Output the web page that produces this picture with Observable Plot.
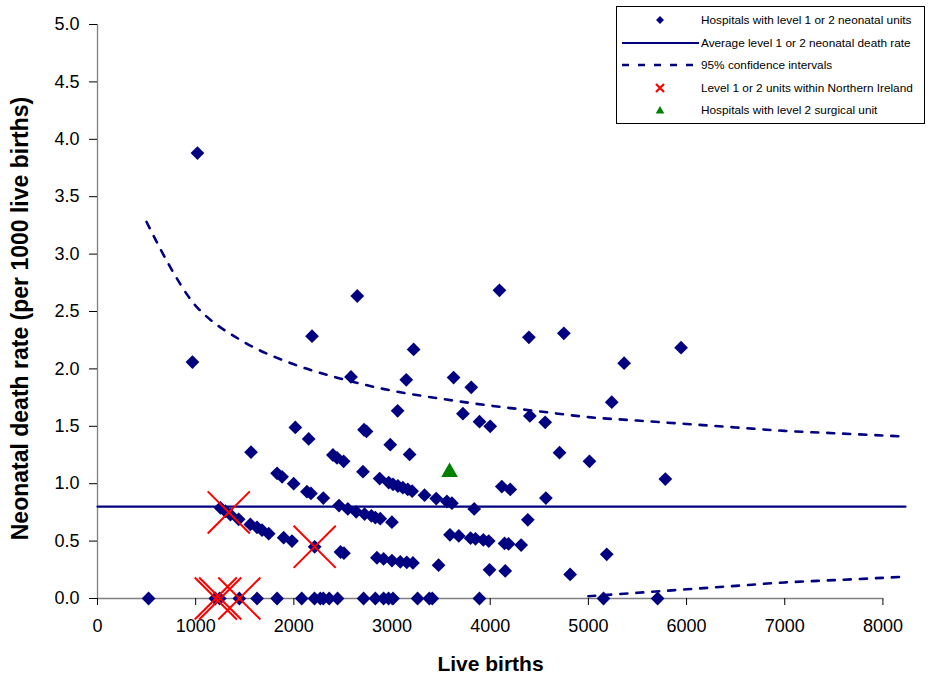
<!DOCTYPE html>
<html><head><meta charset="utf-8">
<script src="https://cdn.jsdelivr.net/npm/d3@7"></script>
<script src="https://cdn.jsdelivr.net/npm/@observablehq/plot@0.6"></script>
<style>
html,body{margin:0;padding:0;background:#fff;}
#wrap{position:relative;width:932px;height:678px;overflow:hidden;font-family:"Liberation Sans",Arial,sans-serif;}
#legend{position:absolute;left:616px;top:6px;width:309px;height:118px;border:1px solid #000;background:#fff;box-sizing:border-box;}
#legend svg{display:block;}
</style></head><body><div id="wrap"></div>
<script>
// ---- data ----
const xTicks = [0, 1000, 2000, 3000, 4000, 5000, 6000, 7000, 8000];
const yTicks = [0, 0.5, 1, 1.5, 2, 2.5, 3, 3.5, 4, 4.5, 5];

// Hospitals with level 1 or 2 neonatal units: live births
const hospBirths = [
  520, 1200, 1245, 1445, 1625, 1829, 2080, 2210, 2270, 2300, 2360, 2445, 2710, 2830, 2914, 2965, 3010, 3260, 3380, 3410, 3890, 5154, 5705,
  1252, 1303, 1354, 1438, 1557, 1625, 1676, 1744, 1896, 1981, 2212, 2475, 2510, 2846, 2914, 2999, 3084, 3150, 3213, 3474, 3993, 4153, 4814,
  967, 1564, 1829, 1880, 1998, 2133, 2174, 2300, 2460, 2550, 2635, 2720, 2790, 2830, 2880, 2999, 3590, 3680, 3800, 3850, 3930, 3985, 4146, 4187, 4315, 5187,
  2015, 2151, 2398, 2440, 2507, 2704, 2874, 2966, 3010, 3060, 3110, 3160, 3205, 3331, 3450, 3559, 3610, 3837, 4383,
  1018, 2185, 2582, 2646, 2715, 2740, 2982, 3057, 3145, 3179, 3220, 3627, 3722, 3807, 3891, 4000, 4094, 4118, 4204, 4394, 4404, 4560, 4567, 4706, 4750, 5011, 5238, 5364, 5784, 5944
];
// Neonatal death rate (per 1000 live births)
const hospRates = [
  0, 0, 0, 0, 0, 0, 0, 0, 0, 0, 0, 0, 0, 0, 0, 0, 0, 0, 0, 0, 0, 0, 0,
  0.79, 0.76, 0.73, 0.69, 0.645, 0.62, 0.595, 0.565, 0.53, 0.50, 0.45, 0.405, 0.395, 0.355, 0.345, 0.33, 0.32, 0.315, 0.31, 0.29, 0.25, 0.24, 0.21,
  2.06, 1.275, 1.09, 1.06, 1.0, 0.93, 0.915, 0.875, 0.81, 0.78, 0.755, 0.735, 0.72, 0.705, 0.695, 0.665, 0.555, 0.545, 0.525, 0.52, 0.51, 0.50, 0.48, 0.475, 0.465, 0.385,
  1.49, 1.39, 1.25, 1.225, 1.195, 1.105, 1.045, 1.01, 0.995, 0.98, 0.965, 0.95, 0.935, 0.90, 0.87, 0.845, 0.83, 0.78, 0.685,
  3.88, 2.285, 1.93, 2.635, 1.47, 1.455, 1.34, 1.635, 1.905, 1.255, 2.17, 1.925, 1.61, 1.84, 1.54, 1.50, 2.685, 0.975, 0.95, 2.275, 1.59, 1.535, 0.875, 1.27, 2.31, 1.195, 1.71, 2.05, 1.04, 2.185
];

// Level 1 or 2 units within Northern Ireland
const niBirths = [1205, 1250, 1445, 1337, 2212];
const niRates = [0, 0, 0, 0.75, 0.45];

// Hospitals with level 2 surgical unit
const surgBirths = [3586];
const surgRates = [1.10];

// Average level 1 or 2 neonatal death rate
const avgRate = 0.80;
const avgRange = [0, 8230];

// 95% confidence intervals
const ciUpperBirths = [500, 1000, 1500, 2000, 2500, 3000, 3500, 4000, 4500, 5000, 5500, 6000, 6500, 7000, 7500, 8000, 8230];
const ciUpperRates = [3.28, 2.55, 2.23, 2.04, 1.91, 1.81, 1.74, 1.68, 1.63, 1.58, 1.55, 1.52, 1.49, 1.46, 1.44, 1.42, 1.41];
const ciLowerBirths = [5000, 5500, 6000, 6500, 7000, 7500, 8000, 8230];
const ciLowerRates = [0.02, 0.05, 0.08, 0.11, 0.14, 0.16, 0.18, 0.19];

const legendItems = [
  "Hospitals with level 1 or 2 neonatal units",
  "Average level 1 or 2 neonatal death rate",
  "95% confidence intervals",
  "Level 1 or 2 units within Northern Ireland",
  "Hospitals with level 2 surgical unit"
];
const xTitle = "Live births";
const yTitle = "Neonatal death rate (per 1000 live births)";

// ---- build tables ----
const hosp = hospBirths.map((b, i) => ({b, r: hospRates[i]}));
const ni = niBirths.map((b, i) => ({b, r: niRates[i]}));
const surg = surgBirths.map((b, i) => ({b, r: surgRates[i]}));
const avg = avgRange.map(b => ({b, r: avgRate}));
const ciU = ciUpperBirths.map((b, i) => ({b, r: ciUpperRates[i]}));
const ciL = ciLowerBirths.map((b, i) => ({b, r: ciLowerRates[i]}));

const NAVY = "#000080";

const chart = Plot.plot({
  width: 932, height: 678,
  marginLeft: 97, marginRight: 27, marginTop: 24, marginBottom: 80,
  x: {domain: avgRange},
  y: {domain: [yTicks[0], yTicks[yTicks.length - 1]]},
  style: {fontFamily: "'Liberation Sans', Arial, sans-serif", background: "#fff", color: "#000", overflow: "visible"},
  marks: [
    Plot.ruleY([0], {x1: xTicks[0], x2: xTicks[xTicks.length - 1], stroke: "#808080", strokeWidth: 1.3}),
    Plot.ruleX([0], {y1: yTicks[0], y2: yTicks[yTicks.length - 1], stroke: "#808080", strokeWidth: 1.3}),
    Plot.axisX({ticks: xTicks, tickSize: 7, tickPadding: 14, fontSize: 18, label: null, tickFormat: d => String(d), stroke: "#000"}),
    Plot.axisY({ticks: yTicks, tickSize: 8, tickPadding: 10, fontSize: 18, label: null, tickFormat: d => d.toFixed(1), stroke: "#000"}),
    Plot.text([xTitle], {frameAnchor: "bottom", textAnchor: "middle", lineAnchor: "middle", dx: -11, dy: 66, fontSize: 21, fontWeight: "bold"}),
    Plot.text([yTitle], {frameAnchor: "left", textAnchor: "middle", lineAnchor: "middle", dx: -77, dy: 7, rotate: -90, fontSize: 23, fontWeight: "bold"}),
    Plot.line(avg, {x: "b", y: "r", stroke: NAVY, strokeWidth: 2.2}),
    Plot.line(ciU, {x: "b", y: "r", stroke: NAVY, strokeWidth: 2.6, strokeDasharray: "7,9", curve: "catmull-rom"}),
    Plot.line(ciL, {x: "b", y: "r", stroke: NAVY, strokeWidth: 2.6, strokeDasharray: "7,9", curve: "catmull-rom"}),
    Plot.dot(hosp, {x: "b", y: "r", symbol: "diamond2", r: 6.2, fill: NAVY, stroke: "none"}),
    Plot.dot(ni, {x: "b", y: "r", symbol: "times", r: 19.2, stroke: "#ff0000", strokeWidth: 2, fill: "none"}),
    Plot.dot(surg, {x: "b", y: "r", symbol: "triangle", r: 6.2, fill: "#008000", stroke: "none"})
  ]
});

const wrap = document.getElementById("wrap");
wrap.appendChild(chart);

// ---- legend ----
const leg = document.createElement("div");
leg.id = "legend";
wrap.appendChild(leg);
const lsvg = d3.select(leg).append("svg").attr("width", 307).attr("height", 116)
  .style("font-family", "'Liberation Sans', Arial, sans-serif");
const rowY = [13, 36, 58, 81, 103];
const sx = 43;
legendItems.forEach((t, i) => {
  const y = rowY[i];
  if (i === 0) lsvg.append("path").attr("d", d3.symbol(d3.symbolDiamond2, 40)()).attr("transform", `translate(${sx},${y})`).attr("fill", NAVY);
  if (i === 1) lsvg.append("line").attr("x1", 5).attr("x2", 82).attr("y1", y).attr("y2", y).attr("stroke", NAVY).attr("stroke-width", 2.2);
  if (i === 2) lsvg.append("line").attr("x1", 5).attr("x2", 82).attr("y1", y).attr("y2", y).attr("stroke", NAVY).attr("stroke-width", 2.6).attr("stroke-dasharray", "7,9");
  if (i === 3) lsvg.append("path").attr("d", "M-4,-4L4,4M-4,4L4,-4").attr("transform", `translate(${sx},${y})`).attr("stroke", "#ff0000").attr("stroke-width", 2.2).attr("fill", "none");
  if (i === 4) lsvg.append("path").attr("d", d3.symbol(d3.symbolTriangle, 32)()).attr("transform", `translate(${sx},${y + 1})`).attr("fill", "#008000");
  lsvg.append("text").attr("x", 84).attr("y", y).attr("dy", "0.35em").attr("font-size", 11.8).attr("fill", "#000").text(t);
});
</script></body></html>
